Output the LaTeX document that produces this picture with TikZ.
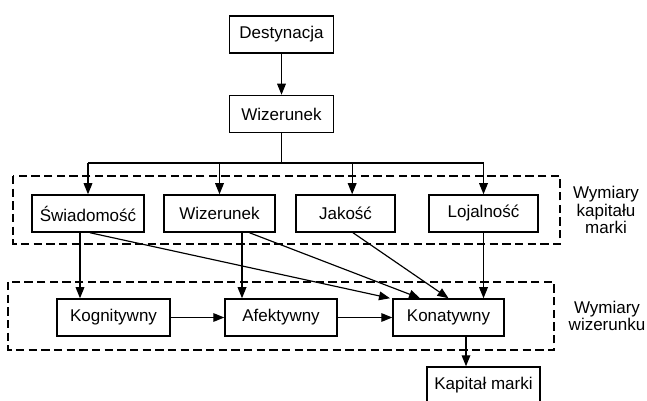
\documentclass[tikz,border=0pt]{standalone}
\usepackage{fontspec}
\setmainfont{Liberation Sans}
\usetikzlibrary{arrows.meta}

\tikzset{
  box/.style={draw, line width=0.9pt, minimum height=22.2pt, inner sep=0pt, font=\fontsize{10.2}{12}\selectfont},
  arr/.style={-{Triangle[length=6.6pt,width=5.2pt]}, line width=0.7pt},
  group/.style={draw, line width=1.1pt, dash pattern=on 5pt off 2.6pt},
  note/.style={align=center, font=\fontsize{10.2}{10.3}\selectfont}
}

\begin{document}
\begin{tikzpicture}[x=0.6pt,y=-0.6pt]
        \useasboundingbox (0,0) rectangle (647,401);
        % dashed groups
        \draw[group] (13,176) rectangle (560,244);
        \draw[group] (8,282) rectangle (554,350);
        % boxes
        \node[box, minimum width=62.4pt] (destynacja) at (281.5,34.5) {Destynacja};
        \node[box, minimum width=62.4pt] (wizerunek) at (281.5,114) {Wizerunek};
        \node[box, minimum width=67.2pt] (swiadomosc) at (88,213.5) {Świadomość};
        \node[box, minimum width=66.6pt] (wizerunekb) at (219.5,213.5) {Wizerunek};
        \node[box, minimum width=59.4pt] (jakosc) at (345.5,213.5) {Jakość};
        \node[box, minimum width=65.4pt] (lojalnosc) at (483.5,213.5) {Lojalność};
        \node[box, minimum width=67.8pt] (kognitywny) at (113.5,317.5) {Kognitywny};
        \node[box, minimum width=67.2pt] (afektywny) at (281,317.5) {Afektywny};
        \node[box, minimum width=66.6pt] (konatywny) at (448.5,317.5) {Konatywny};
        \node[box, minimum width=67.8pt] (kapital) at (483.5,385.5) {Kapitał marki};
        % labels
        \node[note] (kapitalu) at (606,210) {Wymiary\\kapitału\\marki};
        \node[note] (wizerunku) at (607,316) {Wymiary\\wizerunku};
        % connectors
        \draw[arr] (destynacja) -- (wizerunek);
        \coordinate (bus) at (281.5,163);
        \draw[line width=0.7pt] (wizerunek.south) -- (bus);
        \draw[line width=0.7pt] (bus -| swiadomosc.north) -- (bus -| lojalnosc.north);
        \foreach \n/\dx in {swiadomosc/0, wizerunekb/0, jakosc/4, lojalnosc/0}
          \draw[arr] ([xshift=\dx pt]bus -| \n.north) -- ([xshift=\dx pt]\n.north);
        \draw[arr] ([xshift=-4.8pt]swiadomosc.south) coordinate (s1) -- (s1 |- kognitywny.north);
        \draw[arr] ([xshift=13.5pt]wizerunekb.south) coordinate (w1) -- (w1 |- afektywny.north);
        \draw[arr] (lojalnosc.south) -- (lojalnosc.south |- konatywny.north);
        \draw[arr] ([xshift=1.2pt]swiadomosc.south) -- ([xshift=-35.1pt]konatywny.north);
        \draw[arr] ([xshift=18pt]wizerunekb.south) -- ([xshift=-17.1pt]konatywny.north);
        \draw[arr] ([xshift=4.5pt]jakosc.south) -- (konatywny.north);
        \draw[arr] (kognitywny) -- (afektywny);
        \draw[arr] (afektywny) -- (konatywny);
        \draw[arr] ([xshift=10.5pt]konatywny.south) coordinate (k1) -- (k1 |- kapital.north);
      \end{tikzpicture}
\end{document}
